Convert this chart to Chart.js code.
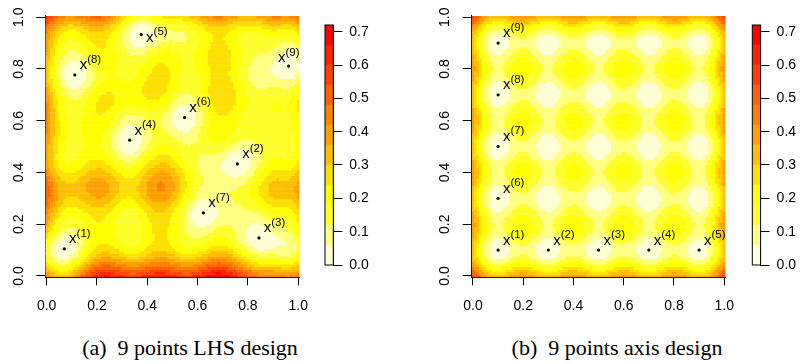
<!DOCTYPE html>
<html>
<head>
<meta charset="utf-8">
<script src="https://cdn.jsdelivr.net/npm/chart.js@4.4.0/dist/chart.umd.min.js"></script>
<style>
  html, body { margin: 0; padding: 0; background: #fff; }
  #page { position: relative; width: 800px; height: 364px; overflow: hidden; }
  canvas { position: absolute; top: 0; }
  .caption { position: absolute; top: 336.5px; width: 280px; text-align: center;
             font-family: 'Liberation Serif', 'Times New Roman', serif; font-size: 22px;
             line-height: 22px; white-space: nowrap; color: #000; }
  .caption span { margin-left: 11px; }
</style>
</head>
<body>
<div id="page">
  <canvas id="mapA" width="320" height="320" style="left:0px"></canvas>
  <canvas id="barA" width="82" height="300" style="left:318px"></canvas>
  <canvas id="mapB" width="320" height="320" style="left:426px"></canvas>
  <canvas id="barB" width="82" height="300" style="left:745px"></canvas>
  <div class="caption" style="left:50px">(a)<span>9 points LHS design</span></div>
  <div class="caption" style="left:477px">(b)<span>9 points axis design</span></div>
</div>
<script>
// design points
const lhsX = [0.070, 0.758, 0.844, 0.330, 0.376, 0.548, 0.623, 0.112, 0.962];
const lhsY = [0.105, 0.433, 0.147, 0.525, 0.933, 0.612, 0.244, 0.777, 0.811];
const axisX = [0.1, 0.3, 0.5, 0.7, 0.9, 0.1, 0.1, 0.1, 0.1];
const axisY = [0.1, 0.1, 0.1, 0.1, 0.1, 0.3, 0.5, 0.7, 0.9];
const pointNames = ['1', '2', '3', '4', '5', '6', '7', '8', '9'];

// axes and colour scale
const axisTicks = [0, 0.2, 0.4, 0.6, 0.8, 1.0];
const barTicks = [0, 0.1, 0.2, 0.3, 0.4, 0.5, 0.6, 0.7];
const levelBreaks = [0, 0.06, 0.12, 0.18, 0.24, 0.30, 0.36, 0.42, 0.48, 0.54, 0.60, 0.66, 0.72];
const levelColors = ['#FFFFD5', '#FFFF80', '#FFFF2A', '#FFFF00', '#FFDF00', '#FFBF00',
                     '#FF9F00', '#FF8000', '#FF6000', '#FF4000', '#FF2000', '#FF0000'];

// additive Matern 3/2 kernel, kriging variance on a 100 x 100 grid
const sigma2 = 1.115;
const theta = 0.25;
const gridSize = 100;

const k1 = (a, b) => {
  const h = Math.sqrt(3) * Math.abs(a - b) / theta;
  return (1 + h) * Math.exp(-h);
};
const kern = (x1, y1, x2, y2) => sigma2 * (k1(x1, x2) + k1(y1, y2));

function krigingVariance(px, py) {
  const n = px.length;
  const L = [];
  for (let i = 0; i < n; i++) {
    L.push(new Array(n).fill(0));
    for (let j = 0; j <= i; j++) {
      let s = kern(px[i], py[i], px[j], py[j]) + (i === j ? 1e-9 : 0);
      for (let m = 0; m < j; m++) s -= L[i][m] * L[j][m];
      L[i][j] = i === j ? Math.sqrt(s) : s / L[j][j];
    }
  }
  return (x, y) => {
    const z = [];
    let v = 2 * sigma2;
    for (let i = 0; i < n; i++) {
      let s = kern(x, y, px[i], py[i]);
      for (let m = 0; m < i; m++) s -= L[i][m] * z[m];
      z[i] = s / L[i][i];
      v -= z[i] * z[i];
    }
    return Math.max(v, 0);
  };
}

function levelColor(v) {
  let k = 0;
  while (k < levelColors.length - 1 && v >= levelBreaks[k + 1]) k++;
  return levelColors[k];
}

const tickFont = { family: "'Liberation Sans', Arial, sans-serif", size: 14 };
const labelFont = "15px 'Liberation Sans', Arial, sans-serif";
const supFont = "11.5px 'Liberation Sans', Arial, sans-serif";

// x^(i) labels next to the design points
const pointLabels = {
  id: 'pointLabels',
  afterDatasetsDraw(chart) {
    const { ctx, chartArea } = chart;
    const ds = chart.data.datasets[0];
    ctx.save();
    ctx.fillStyle = '#000';
    ds.data.forEach((p, i) => {
      const px = chart.scales.x.getPixelForValue(p.x);
      const py = chart.scales.y.getPixelForValue(p.y);
      const sup = '(' + ds.names[i] + ')';
      ctx.font = labelFont;
      const wx = ctx.measureText('x').width;
      ctx.font = supFont;
      const ws = ctx.measureText(sup).width;
      let left = px + 4.8;
      let base = py - 5.6;
      if (left + wx + ws > chartArea.right) { left = chartArea.right - wx - ws; base = py - 3.7; }
      if (base - 6.7 - 8.5 < chartArea.top) base = py + 7.3;
      ctx.font = labelFont;
      ctx.fillText('x', left, base);
      ctx.font = supFont;
      ctx.fillText(sup, left + wx, base - 6.7);
    });
    ctx.restore();
  }
};

function drawMap(id, px, py, yAxisWidth, rightPad) {
  const variance = krigingVariance(px, py);
  const cells = [];
  const colors = [];
  for (let j = 0; j < gridSize; j++) {
    for (let i = 0; i < gridSize; i++) {
      const gx = i / (gridSize - 1);
      const gy = j / (gridSize - 1);
      cells.push({ x: gx, y: gy });
      colors.push(levelColor(variance(gx, gy)));
    }
  }
  const half = 0.5 / (gridSize - 1);
  const points = px.map((x, i) => ({ x: x, y: py[i] }));

  new Chart(document.getElementById(id), {
    type: 'scatter',
    data: {
      datasets: [
        { data: points, names: pointNames, pointRadius: 1.6, pointBackgroundColor: '#000',
          pointBorderWidth: 0, order: 1 },
        { data: cells, pointStyle: 'rect', pointRadius: 2.1, pointBackgroundColor: colors,
          pointBorderWidth: 0, order: 2 }
      ]
    },
    options: {
      responsive: false,
      animation: false,
      events: [],
      layout: { padding: { left: 0, top: 12, right: rightPad, bottom: 0 } },
      plugins: { legend: { display: false }, tooltip: { enabled: false } },
      scales: {
        x: {
          type: 'linear', min: -half, max: 1 + half,
          afterBuildTicks: s => { s.ticks = axisTicks.map(v => ({ value: v })); },
          afterFit: s => { s.height = 42.7; },
          ticks: { callback: v => v.toFixed(1), font: tickFont, color: '#000', padding: 12,
                   maxRotation: 0, autoSkip: false },
          grid: { drawOnChartArea: false, tickLength: 8, tickColor: '#000' },
          border: { color: '#000' }
        },
        y: {
          type: 'linear', min: -half, max: 1 + half,
          afterBuildTicks: s => { s.ticks = axisTicks.map(v => ({ value: v })); },
          afterFit: s => { s.width = yAxisWidth; },
          ticks: { callback: v => v.toFixed(1), font: tickFont, color: '#000', padding: 7.5,
                   minRotation: 90, maxRotation: 90, crossAlign: 'center', autoSkip: false },
          grid: { drawOnChartArea: false, tickLength: 9, tickColor: '#000' },
          border: { color: '#000' }
        }
      }
    },
    plugins: [pointLabels]
  });
}

// black frame around the colour bar
const frame = {
  id: 'frame',
  afterDatasetsDraw(chart) {
    const { ctx, chartArea: a } = chart;
    ctx.save();
    ctx.strokeStyle = '#000';
    ctx.lineWidth = 1;
    ctx.strokeRect(a.left, a.top, a.right - a.left, a.bottom - a.top);
    ctx.restore();
  }
};

function drawBar(id, leftPad) {
  new Chart(document.getElementById(id), {
    type: 'bar',
    data: {
      labels: ['z'],
      datasets: levelColors.map((c, k) => ({
        data: [levelBreaks[k + 1] - levelBreaks[k]],
        backgroundColor: c, borderWidth: 0, barPercentage: 1, categoryPercentage: 1
      }))
    },
    options: {
      responsive: false,
      animation: false,
      events: [],
      layout: { padding: { left: leftPad, top: 25, right: 0, bottom: 35 } },
      plugins: { legend: { display: false }, tooltip: { enabled: false } },
      scales: {
        x: { stacked: true, display: false },
        y: {
          stacked: true, position: 'right', min: 0, max: 0.72,
          afterBuildTicks: s => { s.ticks = barTicks.map(v => ({ value: v })); },
          afterFit: s => { s.width = 82 - leftPad - 8.3; },
          ticks: { callback: v => v.toFixed(1), font: tickFont, color: '#000', padding: 7 },
          grid: { drawOnChartArea: false, tickLength: 9, tickColor: '#000' },
          border: { color: '#000' }
        }
      }
    },
    plugins: [frame]
  });
}

drawMap('mapA', lhsX, lhsY, 45.4, 8.7);
drawMap('mapB', axisX, axisY, 45.7, 7);
drawBar('barA', 7);
drawBar('barB', 7.3);
</script>
</body>
</html>
